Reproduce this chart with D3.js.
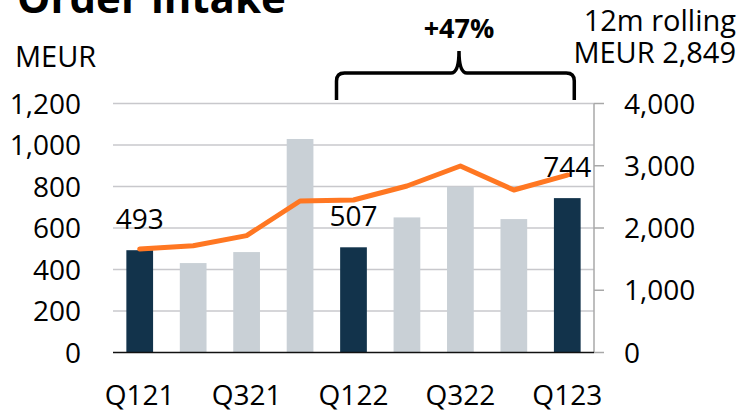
<!DOCTYPE html>
<meta charset="utf-8">
<style>
  body { margin: 0; background: #fff; }
  text { font-family: "Open Sans", "Noto Sans", sans-serif; fill: #000; }
</style>
<svg width="743" height="412"></svg>
<script src="https://d3js.org/d3.v7.min.js"></script>
<script>
    // data
    var quarters = ["Q121", "Q221", "Q321", "Q421", "Q122", "Q222", "Q322", "Q422", "Q123"];
    var orderIntake = [493, 431, 484, 1029, 507, 651, 799, 643, 744];
    var rolling12m = [1663, 1716, 1877, 2434, 2450, 2675, 2996, 2610, 2849];
    var highlighted = ["Q121", "Q122", "Q123"];
    var shownTicks = ["Q121", "Q321", "Q122", "Q322", "Q123"];
    var leftTicks = [0, 200, 400, 600, 800, 1000, 1200];
    var rightTicks = [0, 1000, 2000, 3000, 4000];

    var svg = d3.select("svg");
    var plotLeft = 113, plotRight = 594, plotTop = 103.5, plotBottom = 352.5;

    var x = d3.scaleBand().domain(quarters).range([plotLeft, plotRight]).paddingInner(0.5).paddingOuter(0.25);
    var y = d3.scaleLinear().domain([0, 1200]).range([plotBottom, plotTop]);
    var y2 = d3.scaleLinear().domain([0, 4000]).range([plotBottom, plotTop]);
    var fmt = d3.format(",");

    // title (cut at the top of the frame)
    svg.append("text").attr("x", 17).attr("y", 13)
        .style("font-size", "42px").style("font-weight", "bold")
        .text("Order intake");

    svg.append("text").attr("x", 15).attr("y", 67).style("font-size", "29px").text("MEUR");
    svg.append("text").attr("x", 736).attr("y", 31).attr("text-anchor", "end")
        .style("font-size", "29px").text("12m rolling");
    svg.append("text").attr("x", 736).attr("y", 63).attr("text-anchor", "end")
        .style("font-size", "29px").text("MEUR 2,849");

    // gridlines
    svg.append("g").selectAll("line").data(leftTicks.slice(1)).enter().append("line")
        .attr("x1", plotLeft).attr("x2", plotRight)
        .attr("y1", function(d){ return y(d); }).attr("y2", function(d){ return y(d); })
        .style("stroke", "#c8c8cc").style("stroke-width", 1.5);

    // left axis labels
    svg.append("g").selectAll("text").data(leftTicks).enter().append("text")
        .attr("x", 81).attr("y", function(d){ return y(d) + 10; })
        .attr("text-anchor", "end").style("font-size", "28px")
        .text(function(d){ return fmt(d); });

    // right axis
    var ra = svg.append("g");
    ra.append("line").attr("x1", plotRight).attr("x2", plotRight).attr("y1", plotTop).attr("y2", plotBottom)
        .style("stroke", "#a8a8a8").style("stroke-width", 1.5);
    ra.selectAll("line.tick").data(rightTicks).enter().append("line").attr("class", "tick")
        .attr("x1", plotRight).attr("x2", plotRight + 10)
        .attr("y1", function(d){ return y2(d); }).attr("y2", function(d){ return y2(d); })
        .style("stroke", "#a8a8a8").style("stroke-width", 1.5);
    ra.selectAll("text").data(rightTicks).enter().append("text")
        .attr("x", 624).attr("y", function(d){ return y2(d) + 10; })
        .style("font-size", "28px")
        .text(function(d){ return fmt(d); });

    // bars
    svg.append("g").selectAll("rect").data(quarters).enter().append("rect")
        .attr("x", function(d){ return x(d); })
        .attr("width", x.bandwidth())
        .attr("y", function(d, i){ return y(orderIntake[i]); })
        .attr("height", function(d, i){ return plotBottom - y(orderIntake[i]); })
        .attr("fill", function(d){ return highlighted.indexOf(d) >= 0 ? "#12334b" : "#c9d0d6"; });

    // baseline
    svg.append("line").attr("x1", plotLeft).attr("x2", plotRight).attr("y1", plotBottom).attr("y2", plotBottom)
        .style("stroke", "#111").style("stroke-width", 1.5);

    // rolling line
    var line = d3.line()
        .x(function(d, i){ return x(quarters[i]) + x.bandwidth() / 2; })
        .y(function(d){ return y2(d); });
    svg.append("path").datum(rolling12m).attr("d", line)
        .attr("fill", "none").style("stroke", "#ff7722").style("stroke-width", 5)
        .style("stroke-linecap", "round").style("stroke-linejoin", "round");

    // value labels for highlighted bars
    svg.append("g").selectAll("text").data(highlighted).enter().append("text")
        .attr("x", function(d){ return x(d) + x.bandwidth() / 2; })
        .attr("y", function(d){ return y(orderIntake[quarters.indexOf(d)]) - 21; })
        .attr("text-anchor", "middle").style("font-size", "28px")
        .text(function(d){ return orderIntake[quarters.indexOf(d)]; });

    // x labels
    svg.append("g").selectAll("text").data(shownTicks).enter().append("text")
        .attr("x", function(d){ return x(d) + x.bandwidth() / 2; })
        .attr("y", 405)
        .attr("text-anchor", "middle").style("font-size", "28px")
        .text(function(d){ return d; });

    // brace from Q122 to Q123
    var bx0 = x("Q122") + x.bandwidth() / 2 - 17,
        bx1 = x("Q123") + x.bandwidth() / 2 + 7,
        bm = 459, by = 73, bEnd = 100, bPeak = 51;
    var brace = d3.path();
    brace.moveTo(bx0, bEnd);
    brace.lineTo(bx0, by + 8);
    brace.quadraticCurveTo(bx0, by, bx0 + 8, by);
    brace.lineTo(bm - 8, by);
    brace.quadraticCurveTo(bm, by, bm, bPeak);
    brace.quadraticCurveTo(bm, by, bm + 8, by);
    brace.lineTo(bx1 - 8, by);
    brace.quadraticCurveTo(bx1, by, bx1, by + 8);
    brace.lineTo(bx1, bEnd);
    svg.append("path").attr("d", brace.toString())
        .attr("fill", "none").style("stroke", "#000").style("stroke-width", 3.5);

    svg.append("text").attr("x", bm).attr("y", 38).attr("text-anchor", "middle")
        .style("font-size", "27px").style("font-weight", "bold").text("+47%");
</script>
